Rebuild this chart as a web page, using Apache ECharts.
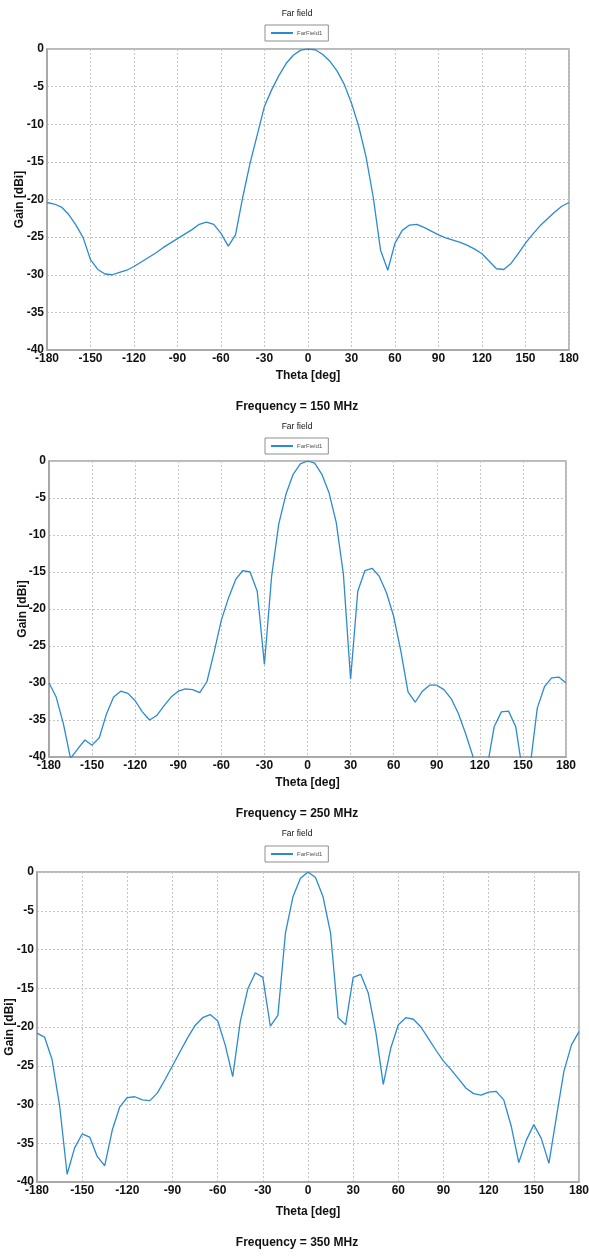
<!DOCTYPE html>
<html>
<head>
<meta charset="utf-8">
<script src="https://cdn.jsdelivr.net/npm/echarts@6/dist/echarts.min.js"></script>
<style>
html,body{margin:0;padding:0;background:#fff;}
#main{width:589px;height:1260px;}
</style>
</head>
<body>
<div id="main"></div>
<script>
// Theta sample angles (deg)
var theta = [];
for (var a = -180; a <= 180; a += 5) theta.push(a);

var xTicks = [-180,-150,-120,-90,-60,-30,0,30,60,90,120,150,180];
var yTicks = [0,-5,-10,-15,-20,-25,-30,-35,-40];

var frequencies = ['Frequency = 150 MHz','Frequency = 250 MHz','Frequency = 350 MHz'];
var seriesName = 'FarField1';
var plotTitle = 'Far field';

var gain150 = [
 -20.4,-20.6,-21.0,-22.0,-23.4,-25.1,-28.0,-29.3,-29.9,-30.0,-29.7,-29.4,-28.9,-28.3,-27.7,-27.1,-26.4,-25.8,-25.2,-24.6,-24.0,-23.3,-23.0,-23.3,-24.5,-26.2,-24.7,-19.7,-15.2,-11.4,-7.6,-5.4,-3.5,-1.9,-0.8,-0.15,
 0,
 -0.1,-0.7,-1.6,-2.9,-4.7,-7.2,-10.3,-14.3,-19.7,-26.7,-29.4,-25.8,-24.1,-23.4,-23.3,-23.7,-24.2,-24.7,-25.1,-25.4,-25.7,-26.1,-26.6,-27.2,-28.2,-29.2,-29.3,-28.5,-27.2,-25.8,-24.6,-23.5,-22.6,-21.7,-20.9,-20.4
];
var gain250 = [
 -30.0,-31.9,-35.5,-40.2,-38.9,-37.7,-38.4,-37.4,-34.2,-31.9,-31.1,-31.4,-32.4,-33.9,-35.0,-34.4,-33.1,-31.9,-31.1,-30.8,-30.9,-31.3,-29.8,-25.8,-21.5,-18.5,-16.0,-14.8,-15.0,-17.6,-27.5,-15.6,-8.5,-4.5,-1.8,-0.4,
 0,
 -0.3,-1.8,-4.3,-8.3,-15.3,-29.5,-17.6,-14.8,-14.5,-15.6,-17.8,-21.0,-25.7,-31.2,-32.6,-31.1,-30.3,-30.3,-30.9,-32.1,-34.1,-36.8,-39.8,-48.0,-41.5,-35.9,-33.9,-33.8,-35.9,-42.3,-41.3,-33.4,-30.5,-29.3,-29.2,-30.0
];
var gain350 = [
 -20.8,-21.3,-24.2,-30.1,-39.0,-35.6,-33.8,-34.2,-36.7,-37.9,-33.3,-30.3,-29.1,-29.0,-29.4,-29.5,-28.5,-26.8,-25.0,-23.2,-21.4,-19.8,-18.8,-18.4,-19.2,-22.3,-26.4,-19.3,-15.1,-13.0,-13.6,-19.9,-18.5,-7.9,-3.2,-0.8,
 0,
 -0.7,-3.2,-7.9,-18.8,-19.7,-13.6,-13.2,-15.6,-20.6,-27.4,-22.7,-19.7,-18.8,-19.0,-20.0,-21.5,-23.0,-24.4,-25.5,-26.7,-27.9,-28.6,-28.8,-28.4,-28.3,-29.4,-32.8,-37.5,-34.6,-32.6,-34.4,-37.6,-31.6,-25.7,-22.3,-20.6
];

var gains = [gain150, gain250, gain350];

// layout per panel
var panels = [
  {left:47, right:20, top:49, height:301, titleY:14, legTop:25, freqY:407, nameGapX:20, nameGapY:21.5},
  {left:49, right:23, top:461, height:296, titleY:427, legTop:438, freqY:814, nameGapX:20, nameGapY:20.5},
  {left:37, right:10, top:872, height:310, titleY:834, legTop:846, freqY:1243, nameGapX:24, nameGapY:21.5}
];

var FONT = '"Liberation Sans", Arial, sans-serif';
var lineColor = '#2b8ad2';

var grids = [], xAxes = [], yAxes = [], series = [], legends = [], graphics = [];
panels.forEach(function(p, i){
  grids.push({left:p.left, right:p.right, top:p.top, height:p.height, show:true,
    borderColor:'#a3a3a3', borderWidth:1.5, backgroundColor:'#fff', containLabel:false,
    outerBoundsMode:'none'});
  xAxes.push({type:'value', gridIndex:i, min:-180, max:180, interval:30,
    name:'Theta [deg]', nameLocation:'middle', nameGap:p.nameGapX, nameMoveOverlap:false,
    nameTextStyle:{fontFamily:FONT, fontWeight:'bold', fontSize:12, color:'#111'},
    axisLine:{show:true, onZero:false, lineStyle:{color:'#a3a3a3', width:1.5}},
    axisTick:{show:false},
    axisLabel:{fontFamily:FONT, fontWeight:'bold', fontSize:12, color:'#111', margin:3,
      formatter:function(v){return xTicks.indexOf(v) >= 0 ? String(v) : '';}},
    splitLine:{show:true, lineStyle:{color:'#c4c4c4', type:[2,2], width:1}}
  });
  yAxes.push({type:'value', gridIndex:i, min:-40, max:0, interval:5,
    name:'Gain [dBi]', nameLocation:'middle', nameGap:p.nameGapY, nameRotate:90, nameMoveOverlap:false,
    nameTextStyle:{fontFamily:FONT, fontWeight:'bold', fontSize:12, color:'#111'},
    axisLine:{show:true, onZero:false, lineStyle:{color:'#a3a3a3', width:1.5}},
    axisTick:{show:false},
    axisLabel:{fontFamily:FONT, fontWeight:'bold', fontSize:12, color:'#111', margin:3,
      formatter:function(v){return yTicks.indexOf(v) >= 0 ? String(v) : '';}},
    splitLine:{show:true, lineStyle:{color:'#c4c4c4', type:[2,2], width:1}}
  });
  series.push({type:'line', name:seriesName, xAxisIndex:i, yAxisIndex:i,
    data: theta.map(function(t, k){ return [t, gains[i][k]]; }),
    symbol:'none', showSymbol:false, clip:true, smooth:false,
    lineStyle:{color:lineColor, width:1.3}, itemStyle:{color:lineColor}});
  legends.push({data:[seriesName], left:265, top:p.legTop, orient:'horizontal',
    icon:'rect', itemWidth:22, itemHeight:2, itemGap:4,
    padding:[4,6,4,6], borderColor:'#8f8f8f', borderWidth:1, backgroundColor:'#fff',
    selectedMode:false,
    textStyle:{fontFamily:FONT, fontSize:6, color:'#555', lineHeight:8, padding:[0,0,0,-1]}});
  graphics.push({type:'text', x:297, y:p.titleY,
    style:{text:plotTitle, x:0, y:0, textAlign:'center', textVerticalAlign:'middle',
      font:'8.5px ' + FONT, fill:'#111'}});
  graphics.push({type:'text', x:297, y:p.freqY,
    style:{text:frequencies[i], x:0, y:0, textAlign:'center', textVerticalAlign:'middle',
      font:'bold 12px ' + FONT, fill:'#111'}});
});

var chart = echarts.init(document.getElementById('main'), null, {renderer:'canvas'});
chart.setOption({
  backgroundColor:'#fff',
  animation:false,
  grid:grids, xAxis:xAxes, yAxis:yAxes, series:series, legend:legends,
  graphic:graphics
});
</script>
</body>
</html>
